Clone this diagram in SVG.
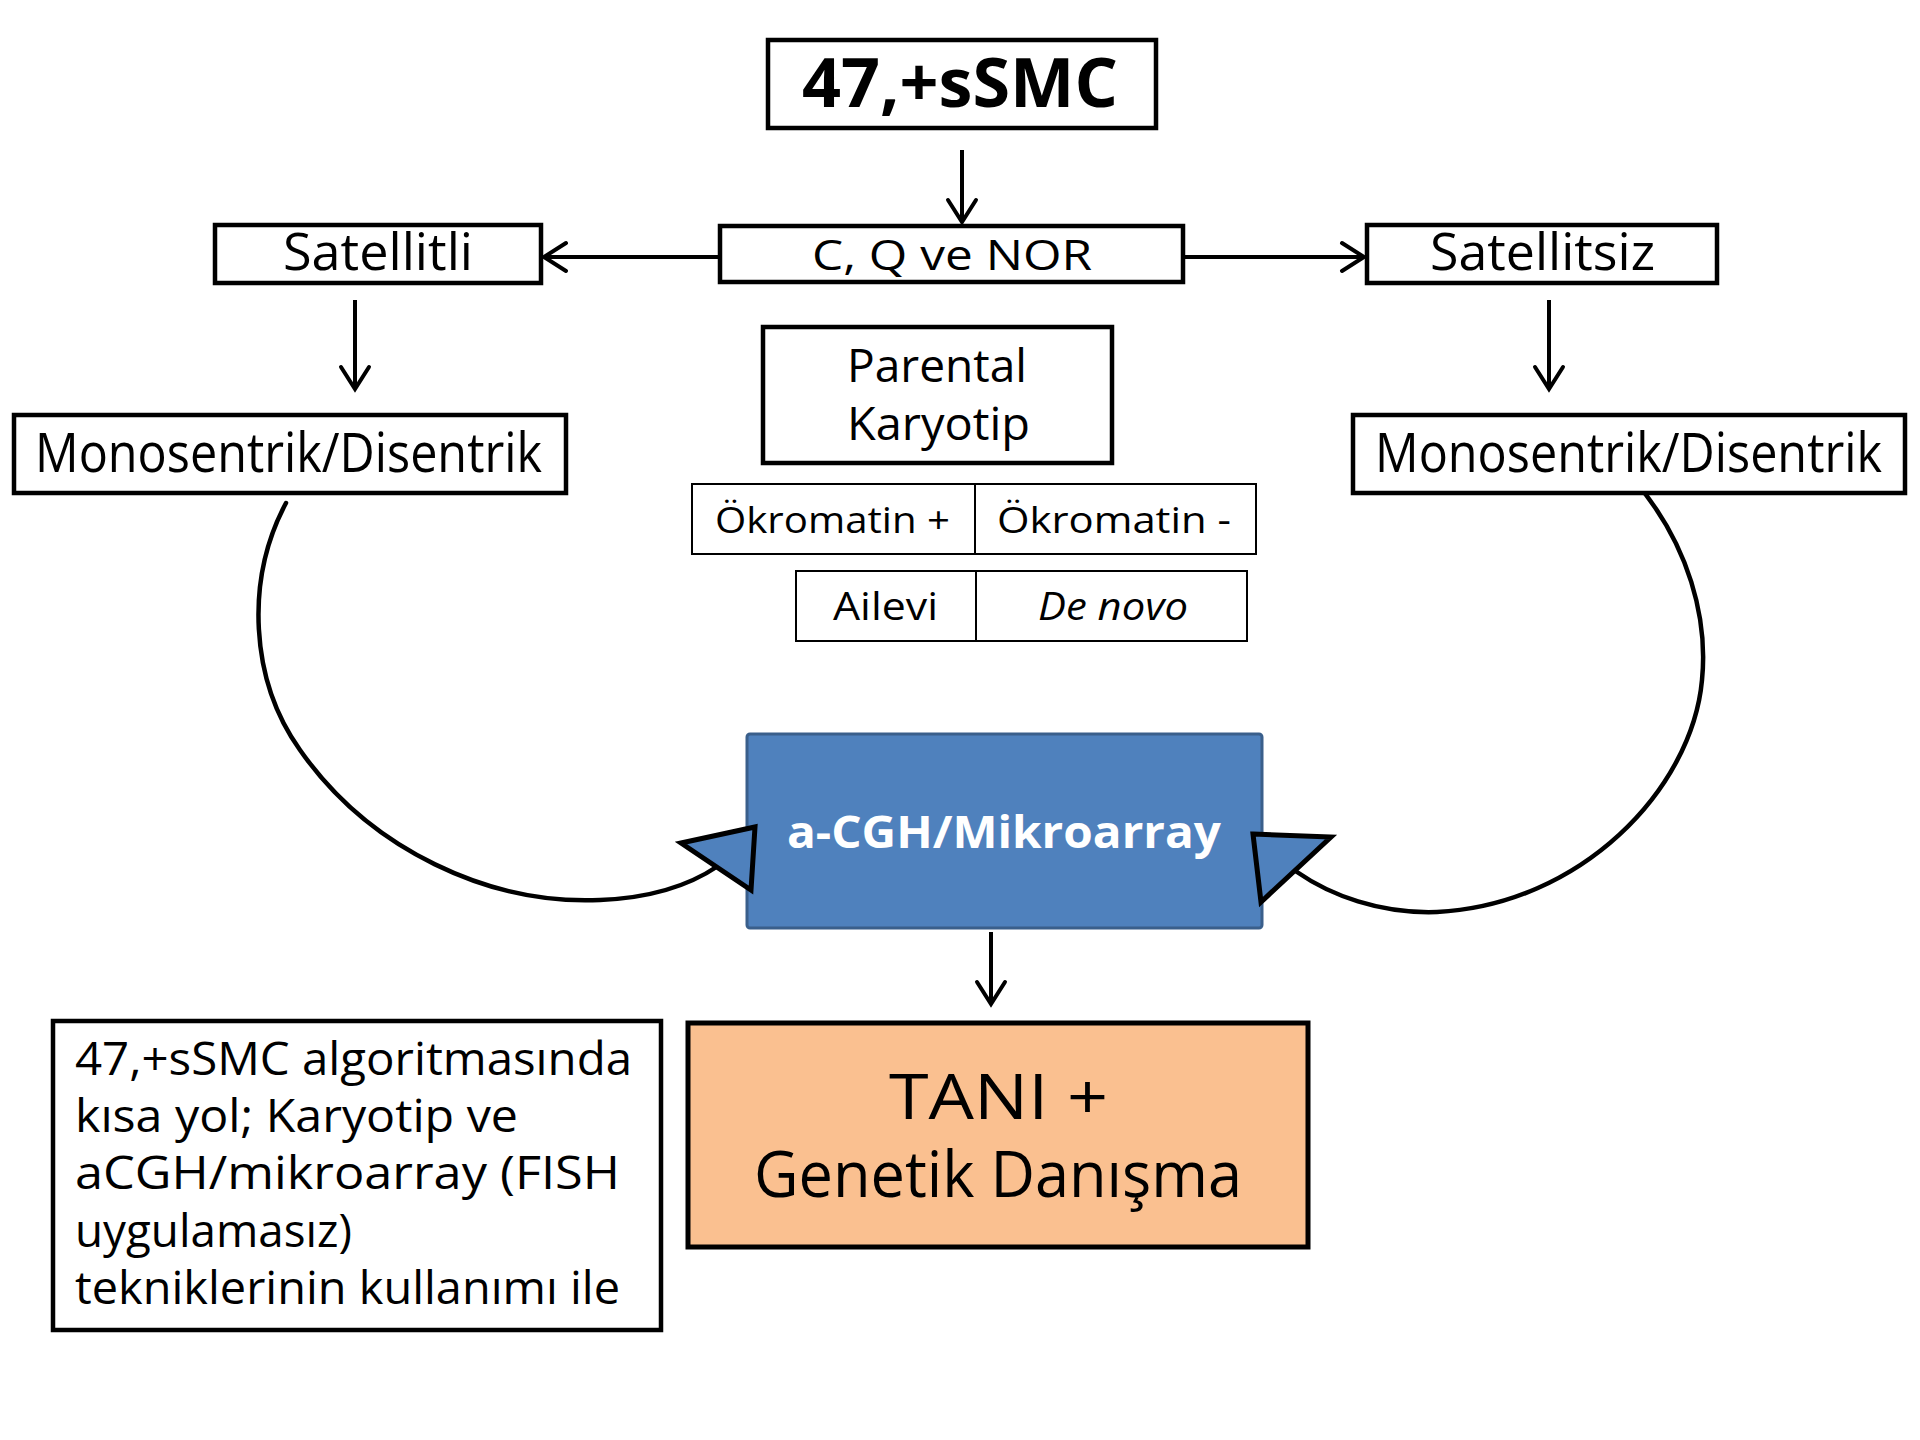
<svg xmlns="http://www.w3.org/2000/svg" width="1920" height="1440" viewBox="0 0 1920 1440">
  <defs>
    <style>
      .box { fill: #ffffff; stroke: #000000; stroke-width: 4.5; }
      .cell { fill: #ffffff; stroke: #000000; stroke-width: 2; }
      .txt { font-family: "Open Sans", "Noto Sans", sans-serif; fill: #000000; }
      .bold { font-weight: 700; }
      .wire { fill: none; stroke: #000000; stroke-width: 4; }
      .curve { fill: none; stroke: #000000; stroke-width: 4.5; stroke-linecap: round; }
      .head { fill: #4F81BD; stroke: #000000; stroke-width: 5; stroke-linejoin: miter; }
    </style>
    <marker id="vhead" viewBox="0 0 30 34" markerWidth="30" markerHeight="34" refX="26" refY="17" orient="auto" markerUnits="userSpaceOnUse">
      <path d="M4,3 L26,17 L4,31" fill="none" stroke="#000000" stroke-width="4" stroke-linecap="round"/>
    </marker>
  </defs>

  <rect width="1920" height="1440" fill="#ffffff"/>

  <!-- connectors -->
  <g id="connectors">
    <line class="wire" x1="962" y1="150" x2="962" y2="222" marker-end="url(#vhead)"/>
    <line class="wire" x1="720" y1="257" x2="544" y2="257" marker-end="url(#vhead)"/>
    <line class="wire" x1="1183" y1="257" x2="1364" y2="257" marker-end="url(#vhead)"/>
    <line class="wire" x1="355" y1="300" x2="355" y2="389" marker-end="url(#vhead)"/>
    <line class="wire" x1="1549" y1="300" x2="1549" y2="389" marker-end="url(#vhead)"/>
    <line class="wire" x1="991" y1="932" x2="991" y2="1004" marker-end="url(#vhead)"/>
    <path class="curve" d="M286,503 C245,580 250,680 300,750 C370,850 490,905 600,900 C650,898 690,885 718,866"/>
    <path class="curve" d="M1634,480 C1690,545 1708,620 1702,680 C1692,790 1580,905 1437,912 C1380,914 1330,895 1297,872"/>
  </g>

  <!-- top node -->
  <g id="node-smc">
    <rect class="box" x="768" y="40" width="388" height="88"/>
    <text class="txt bold" x="802" y="107" font-size="68" textLength="316" lengthAdjust="spacingAndGlyphs">47,+sSMC</text>
  </g>

  <g id="node-cqnor">
    <rect class="box" x="720" y="226" width="463" height="56"/>
    <text class="txt" x="812" y="270" font-size="42" textLength="280" lengthAdjust="spacingAndGlyphs">C, Q ve NOR</text>
  </g>

  <g id="node-satellitli">
    <rect class="box" x="215" y="225" width="326" height="58"/>
    <text class="txt" x="283" y="270" font-size="52" textLength="190" lengthAdjust="spacingAndGlyphs">Satellitli</text>
  </g>

  <g id="node-satellitsiz">
    <rect class="box" x="1367" y="225" width="350" height="58"/>
    <text class="txt" x="1430" y="270" font-size="52" textLength="225" lengthAdjust="spacingAndGlyphs">Satellitsiz</text>
  </g>

  <g id="node-mono-left">
    <rect class="box" x="14" y="415" width="552" height="78"/>
    <text class="txt" x="35" y="472" font-size="54" textLength="507" lengthAdjust="spacingAndGlyphs">Monosentrik/Disentrik</text>
  </g>

  <g id="node-mono-right">
    <rect class="box" x="1353" y="415" width="552" height="78"/>
    <text class="txt" x="1375" y="472" font-size="54" textLength="507" lengthAdjust="spacingAndGlyphs">Monosentrik/Disentrik</text>
  </g>

  <g id="node-parental">
    <rect class="box" x="763" y="327" width="349" height="136"/>
    <text class="txt" x="847" y="382" font-size="46" textLength="180" lengthAdjust="spacingAndGlyphs">Parental</text>
    <text class="txt" x="847" y="440" font-size="46" textLength="183" lengthAdjust="spacingAndGlyphs">Karyotip</text>
  </g>

  <g id="node-okromatin">
    <rect class="cell" x="692" y="484" width="283" height="70"/>
    <rect class="cell" x="975" y="484" width="281" height="70"/>
    <text class="txt" x="715" y="533" font-size="37" textLength="235" lengthAdjust="spacingAndGlyphs">Ökromatin +</text>
    <text class="txt" x="997" y="533" font-size="37" textLength="234" lengthAdjust="spacingAndGlyphs">Ökromatin -</text>
  </g>

  <g id="node-koken">
    <rect class="cell" x="796" y="571" width="180" height="70"/>
    <rect class="cell" x="976" y="571" width="271" height="70"/>
    <text class="txt" x="833" y="620" font-size="38" textLength="105" lengthAdjust="spacingAndGlyphs">Ailevi</text>
    <text class="txt" x="1038" y="620" font-size="38" font-style="italic" textLength="150" lengthAdjust="spacingAndGlyphs">De novo</text>
  </g>

  <g id="node-acgh">
    <rect x="747" y="734" width="515" height="194" rx="3" fill="#4F81BD" stroke="#3A5F8B" stroke-width="3"/>
    <text class="txt bold" x="787" y="848" font-size="44" style="fill:#ffffff" textLength="434" lengthAdjust="spacingAndGlyphs">a-CGH/Mikroarray</text>
    <polygon class="head" points="681,843 755,827 751,890"/>
    <polygon class="head" points="1253,834 1331,837 1261,902"/>
  </g>

  <g id="node-tani">
    <rect x="688" y="1023" width="620" height="224" fill="#FAC090" stroke="#000000" stroke-width="5"/>
    <text class="txt" x="889" y="1119" font-size="62" textLength="219" lengthAdjust="spacingAndGlyphs">TANI +</text>
    <text class="txt" x="754" y="1197" font-size="64" textLength="488" lengthAdjust="spacingAndGlyphs">Genetik Danışma</text>
  </g>

  <g id="node-note">
    <rect class="box" x="53" y="1021" width="608" height="309"/>
    <text class="txt" x="75" y="1075" font-size="45" textLength="557" lengthAdjust="spacingAndGlyphs">47,+sSMC algoritmasında</text>
    <text class="txt" x="75" y="1132" font-size="45" textLength="443" lengthAdjust="spacingAndGlyphs">kısa yol; Karyotip ve</text>
    <text class="txt" x="75" y="1189" font-size="45" textLength="545" lengthAdjust="spacingAndGlyphs">aCGH/mikroarray (FISH</text>
    <text class="txt" x="75" y="1247" font-size="45" textLength="277" lengthAdjust="spacingAndGlyphs">uygulamasız)</text>
    <text class="txt" x="75" y="1304" font-size="45" textLength="545" lengthAdjust="spacingAndGlyphs">tekniklerinin kullanımı ile</text>
  </g>
</svg>
